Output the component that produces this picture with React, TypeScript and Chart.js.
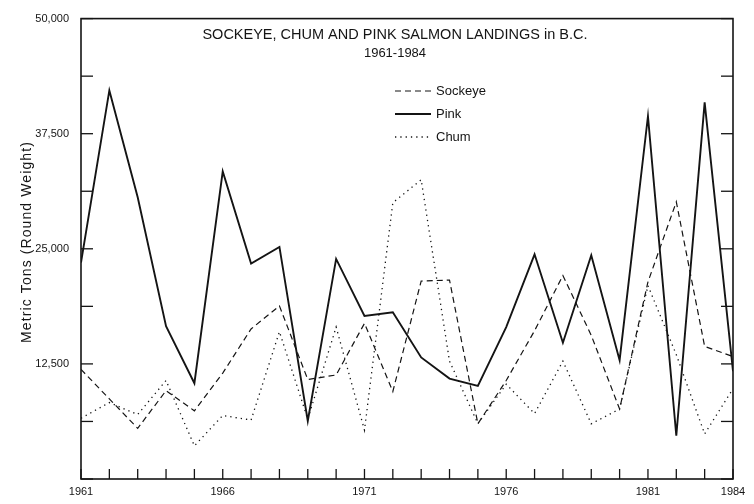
import { useEffect, useRef } from 'react';
import { Chart, registerables } from 'chart.js';

Chart.register(...registerables);

const YEARS = [1961, 1962, 1963, 1964, 1965, 1966, 1967, 1968, 1969, 1970, 1971, 1972, 1973, 1974, 1975, 1976, 1977, 1978, 1979, 1980, 1981, 1982, 1983, 1984];
const SOCKEYE = [11900, 8700, 5500, 9600, 7400, 11500, 16300, 18800, 10800, 11300, 16900, 9500, 21500, 21600, 6000, 10700, 16100, 22100, 15600, 7600, 21400, 30100, 14400, 13300];
const PINK = [23500, 42200, 30600, 16600, 10400, 33400, 23400, 25200, 6300, 23900, 17700, 18100, 13200, 10900, 10100, 16500, 24400, 14800, 24300, 12900, 39400, 4700, 40900, 11700];
const CHUM = [6600, 8300, 7000, 10700, 3600, 6900, 6400, 16000, 6500, 16500, 5300, 30000, 32500, 12800, 6000, 10300, 7100, 12800, 6000, 7600, 21000, 13500, 4900, 9800];

const SERIES_NAMES = ['Sockeye', 'Pink', 'Chum'];
const Y_LABEL_VALUES = [12500, 25000, 37500, 50000];
const Y_LABEL_TEXTS = ['12,500', '25,000', '37,500', '50,000'];
const X_LABEL_YEARS = [1961, 1966, 1971, 1976, 1981, 1984];
const TITLE_LINES = ['SOCKEYE, CHUM AND PINK SALMON LANDINGS in B.C.', '1961-1984'];
const Y_TITLE = 'Metric Tons (Round Weight)';

const FONT = '"Liberation Sans", Arial, Helvetica, sans-serif';
const INK = '#141414';

const framePlugin = {
  id: 'frame',
  afterDatasetsDraw(chart: any) {
    const { ctx, chartArea, scales } = chart;
    const { left, right, top, bottom } = chartArea;
    const x = scales.x;
    const y = scales.y;
    const seg = (x1: number, y1: number, x2: number, y2: number) => {
      ctx.beginPath();
      ctx.moveTo(x1, y1);
      ctx.lineTo(x2, y2);
      ctx.stroke();
    };
    ctx.save();
    ctx.strokeStyle = INK;
    ctx.fillStyle = INK;
    ctx.setLineDash([]);
    ctx.lineWidth = 1.6;
    ctx.strokeRect(left, top, right - left, bottom - top);
    ctx.lineWidth = 1.3;
    x.ticks.forEach((t: any) => {
      const px = x.getPixelForValue(t.value);
      seg(px, bottom, px, bottom - 10);
    });
    y.ticks.forEach((t: any) => {
      const py = y.getPixelForValue(t.value);
      seg(left, py, left + 12, py);
      seg(right, py, right - 12, py);
    });

    // title
    const cx = 395;
    ctx.font = `14.5px ${FONT}`;
    ctx.textAlign = 'center';
    ctx.textBaseline = 'middle';
    ctx.fillText(TITLE_LINES[0], cx, 35);
    ctx.font = `13px ${FONT}`;
    ctx.fillText(TITLE_LINES[1], cx, 53);

    // legend
    chart.data.datasets.forEach((ds: any, i: number) => {
      const ly = 91 + i * 23;
      ctx.lineWidth = ds.borderWidth;
      ctx.setLineDash(ds.borderDash || []);
      seg(395, ly, 431, ly);
      ctx.setLineDash([]);
      ctx.font = `13px ${FONT}`;
      ctx.textAlign = 'left';
      ctx.fillText(ds.label, 436, ly);
    });

    // y axis title
    ctx.save();
    ctx.translate(27, 242);
    ctx.rotate(-Math.PI / 2);
    ctx.font = `14px ${FONT}`;
    (ctx as any).letterSpacing = '1.1px';
    ctx.textAlign = 'center';
    ctx.textBaseline = 'middle';
    ctx.fillText(Y_TITLE, 0, 0);
    ctx.restore();

    ctx.restore();
  },
};

export default function App() {
  const ref = useRef<HTMLCanvasElement | null>(null);

  useEffect(() => {
    if (!ref.current) return;
    const toPts = (vals: number[]) => YEARS.map((yr, i) => ({ x: yr, y: vals[i] }));
    const chart = new Chart(ref.current, {
      type: 'line',
      data: {
        datasets: [
          {
            label: SERIES_NAMES[0],
            data: toPts(SOCKEYE),
            borderColor: INK,
            borderWidth: 1.2,
            borderDash: [6, 4],
            pointRadius: 0,
            tension: 0,
            fill: false,
          },
          {
            label: SERIES_NAMES[1],
            data: toPts(PINK),
            borderColor: INK,
            borderWidth: 1.9,
            pointRadius: 0,
            tension: 0,
            fill: false,
          },
          {
            label: SERIES_NAMES[2],
            data: toPts(CHUM),
            borderColor: INK,
            borderWidth: 1.3,
            borderDash: [1.3, 4],
            pointRadius: 0,
            tension: 0,
            fill: false,
          },
        ],
      },
      options: {
        animation: false,
        responsive: true,
        maintainAspectRatio: false,
        layout: { padding: { top: 13, right: 21, left: 0, bottom: 0 } },
        plugins: {
          legend: { display: false },
          title: { display: false },
          tooltip: { enabled: false },
        },
        scales: {
          x: {
            type: 'linear',
            min: YEARS[0],
            max: YEARS[YEARS.length - 1],
            grid: { display: false, drawTicks: false },
            border: { display: false },
            afterFit: (s: any) => {
              s.height = 25;
            },
            afterBuildTicks: (s: any) => {
              s.ticks = YEARS.map((v) => ({ value: v }));
            },
            ticks: {
              autoSkip: false,
              maxRotation: 0,
              padding: 6,
              color: INK,
              font: { family: FONT, size: 11 },
              callback: (v: any) => (X_LABEL_YEARS.includes(Number(v)) ? String(v) : ''),
            },
          },
          y: {
            type: 'linear',
            min: 0,
            max: 50000,
            grid: { display: false, drawTicks: false },
            border: { display: false },
            afterFit: (s: any) => {
              s.width = 81;
            },
            ticks: {
              stepSize: 6250,
              padding: 12,
              color: INK,
              font: { family: FONT, size: 11 },
              callback: (v: any) => {
                const idx = Y_LABEL_VALUES.indexOf(Number(v));
                return idx >= 0 ? Y_LABEL_TEXTS[idx] : '';
              },
            },
          },
        },
      },
      plugins: [framePlugin],
    } as any);
    return () => chart.destroy();
  }, []);

  return (
    <div style={{ position: 'fixed', left: 0, top: 0, width: 754, height: 504, background: '#fff' }}>
      <canvas ref={ref} />
    </div>
  );
}
